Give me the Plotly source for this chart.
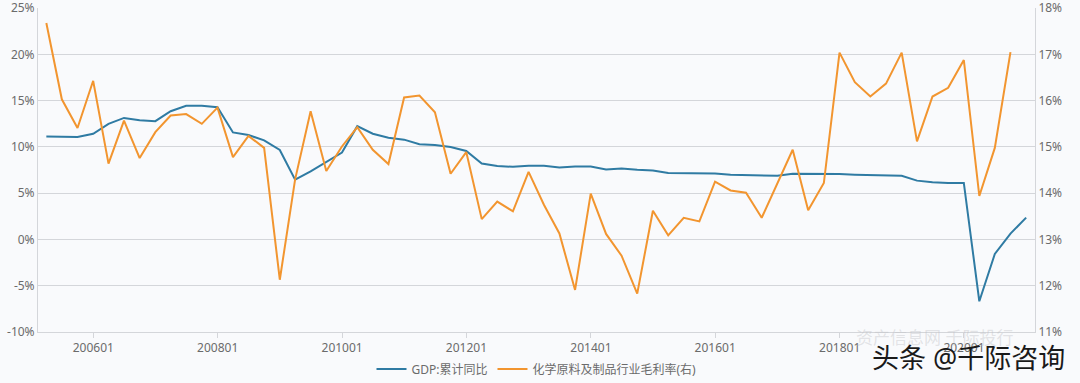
import plotly.graph_objects as go

# Quarter-end dates 2005Q1 .. 2020Q4
quarters = []
for y in range(2005, 2021):
    for md in ["03-31", "06-30", "09-30", "12-31"]:
        quarters.append(f"{y}-{md}")

gdp_cum_yoy = [
    11.14, 11.14, 11.07, 11.43,
    12.50, 13.14, 12.89, 12.79,
    13.86, 14.46, 14.46, 14.29,
    11.57, 11.29, 10.71, 9.68,
    6.46, 7.36, 8.39, 9.39,
    12.25, 11.43, 11.00, 10.79,
    10.29, 10.21, 10.00, 9.57,
    8.21, 7.93, 7.86, 7.96,
    7.96, 7.79, 7.89, 7.89,
    7.57, 7.68, 7.54, 7.46,
    7.18, 7.18, 7.18, 7.14,
    7.00, 6.96, 6.86, 6.89,
    7.11, 7.11, 7.11, 7.07,
    7.00, 6.96, 6.96, 6.89,
    6.36, 6.18, 6.11, 6.11,
    -6.68, -1.57, 0.64, 2.36,
]

chem_gross_margin = [
    17.68, 16.03, 15.41, 16.43,
    14.64, 15.57, 14.76, 15.32,
    15.68, 15.71, 15.50, 15.85,
    14.78, 15.24, 14.98, 12.13,
    14.30, 15.77, 14.48, 15.01,
    15.43, 14.94, 14.63, 16.07,
    16.11, 15.75, 14.42, 14.89,
    13.44, 13.82, 13.61, 14.46,
    13.75, 13.13, 11.91, 13.99,
    13.12, 12.65, 11.83, 13.62,
    13.09, 13.47, 13.39, 14.25,
    14.06, 14.01, 13.47, 14.20,
    14.94, 13.63, 14.22, 17.04,
    16.40, 16.09, 16.37, 17.04,
    15.12, 16.09, 16.28, 16.88,
    13.94, 14.98, 17.05,
]

tick_dates = ["2006-01-01", "2008-01-01", "2010-01-01", "2012-01-01",
              "2014-01-01", "2016-01-01", "2018-01-01", "2020-01-01"]
tick_labels = ["200601", "200801", "201001", "201201",
               "201401", "201601", "201801", "202001"]
left_ticks = [-10, -5, 0, 5, 10, 15, 20, 25]
left_labels = ["-10%", "-5%", "0%", "5%", "10%", "15%", "20%", "25%"]
right_ticks = [11, 12, 13, 14, 15, 16, 17, 18]
right_labels = ["11%", "12%", "13%", "14%", "15%", "16%", "17%", "18%"]

name_gdp = "GDP:累计同比"
name_chem = "化学原料及制品行业毛利率(右)"

BLUE = "#2F7BA3"
ORANGE = "#F2952F"
GRID = "#d4d6da"
TXT = "#6b6b6b"
BG = "#f9fafc"
FONT = "Noto Sans, Noto Sans CJK SC, sans-serif"

fig = go.Figure()
fig.add_trace(go.Scatter(x=quarters, y=gdp_cum_yoy, name=name_gdp, mode="lines",
                         line=dict(color=BLUE, width=2), yaxis="y"))
fig.add_trace(go.Scatter(x=quarters[:len(chem_gross_margin)], y=chem_gross_margin,
                         name=name_chem, mode="lines",
                         line=dict(color=ORANGE, width=2), yaxis="y2"))

fig.update_layout(
    width=1080, height=383,
    margin=dict(l=38, r=45, t=8, b=51, autoexpand=False),
    paper_bgcolor=BG, plot_bgcolor=BG,
    font=dict(family=FONT, size=12, color=TXT),
    showlegend=True,
    legend=dict(orientation="h", x=0.5, xanchor="center", y=-0.114, yanchor="middle",
                font=dict(size=12, color=TXT), itemwidth=30, bgcolor="rgba(0,0,0,0)"),
    xaxis=dict(type="date", range=["2005-02-10", "2021-02-21"],
               tickmode="array", tickvals=tick_dates, ticktext=tick_labels,
               showgrid=False, showline=True, linecolor=GRID, linewidth=1,
               ticks="outside", ticklen=5, tickcolor=GRID, automargin=False,
               tickfont=dict(size=12, color=TXT), zeroline=False),
    yaxis=dict(range=[-10, 25.02], tickmode="array", tickvals=left_ticks,
               ticktext=left_labels, showgrid=True, automargin=False,
               ticklabeloverflow="allow",
               gridcolor=GRID, gridwidth=1, zeroline=False,
               showline=True, linecolor=GRID, linewidth=1, ticks="",
               tickfont=dict(size=12, color=TXT)),
    yaxis2=dict(range=[11, 18.004], tickmode="array", tickvals=right_ticks,
                ticktext=right_labels, overlaying="y", side="right", automargin=False,
                ticklabeloverflow="allow",
                showgrid=False, zeroline=False, showline=True, linecolor=GRID,
                linewidth=1, ticks="", tickfont=dict(size=12, color=TXT)),
)

fig.add_annotation(text="资产信息网 千际投行", xref="paper", yref="paper",
                   x=0.98, y=-0.018, xanchor="right", yanchor="middle", showarrow=False,
                   font=dict(size=17, color="rgba(190,190,195,0.4)", family=FONT))
fig.add_annotation(text="头条 @千际咨询", xref="paper", yref="paper",
                   x=1.032, y=-0.080, xanchor="right", yanchor="middle", showarrow=False,
                   font=dict(size=27, color="#1a1a1a", family=FONT))

fig.write_html("out.html", config={"displayModeBar": False},
               post_script="document.body.style.margin='0';document.body.style.padding='0';document.body.style.background='" + BG + "';")
